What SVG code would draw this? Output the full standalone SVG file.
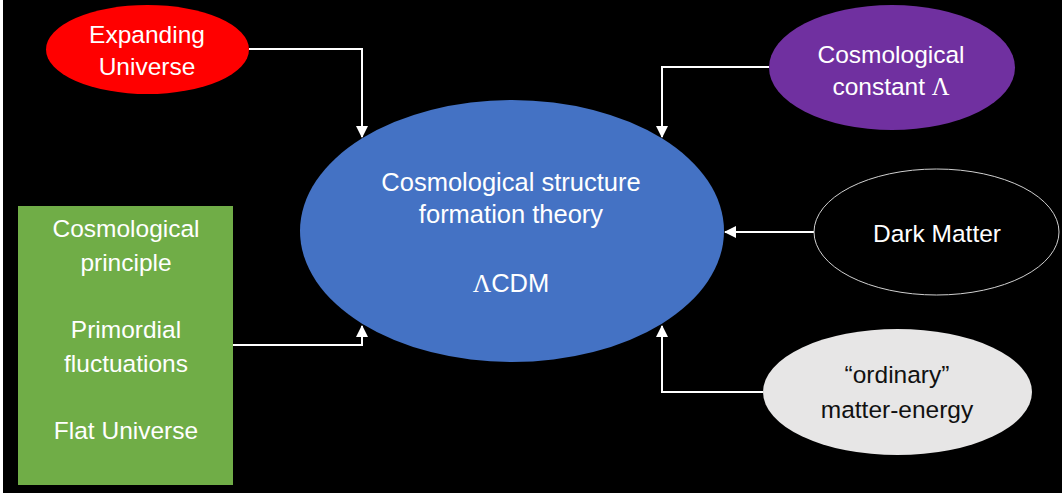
<svg xmlns="http://www.w3.org/2000/svg" width="1062" height="493" viewBox="0 0 1062 493">
<style>
text{font-family:"Liberation Sans",Arial,sans-serif;font-size:24.5px;fill:#ffffff;text-anchor:middle}
.big{font-size:25.5px}
.dark{fill:#111111}
.serif{font-family:"Liberation Serif","Times New Roman",serif}
.conn{fill:none;stroke:#ffffff;stroke-width:2}
</style>
<defs>
<marker id="arr" viewBox="0 0 12 12" refX="11" refY="6" markerWidth="12" markerHeight="12" markerUnits="userSpaceOnUse" orient="auto">
<path d="M0,0 L12,6 L0,12 Z" fill="#ffffff"/>
</marker>
</defs>
<rect x="0" y="0" width="1062" height="493" fill="#000000"/>
<rect x="0" y="0" width="3" height="493" fill="#ffffff"/>
<g id="connectors">
<path class="conn" d="M249,49 H362 V137" marker-end="url(#arr)"/>
<path class="conn" d="M769,67 H662 V137" marker-end="url(#arr)"/>
<path class="conn" d="M814,232 H725" marker-end="url(#arr)"/>
<path class="conn" d="M763,392 H662 V326" marker-end="url(#arr)"/>
<path class="conn" d="M233,345 H362 V326" marker-end="url(#arr)"/>
</g>
<g id="center">
<ellipse cx="512" cy="231" rx="212" ry="131" fill="#4472C4"/>
<text class="big" x="511" y="191">Cosmological structure</text>
<text class="big" x="511" y="223">formation theory</text>
<text class="big" x="511" y="292"><tspan class="serif">Λ</tspan>CDM</text>
</g>
<g id="expanding">
<ellipse cx="147.5" cy="49.5" rx="101.5" ry="44.5" fill="#FF0000"/>
<text x="147" y="43">Expanding</text>
<text x="147" y="75">Universe</text>
</g>
<g id="lambda">
<ellipse cx="892" cy="67.5" rx="123" ry="62.5" fill="#7030A0"/>
<text x="891" y="63">Cosmological</text>
<text x="891" y="95">constant <tspan class="serif">Λ</tspan></text>
</g>
<g id="darkmatter">
<ellipse cx="936.5" cy="232" rx="122.5" ry="63" fill="#000000" stroke="#d0d0d0" stroke-width="1"/>
<text x="937" y="242">Dark Matter</text>
</g>
<g id="ordinary">
<ellipse cx="897.5" cy="392" rx="134.5" ry="63" fill="#E7E6E6"/>
<text class="dark" x="897" y="383">“ordinary”</text>
<text class="dark" x="897" y="418">matter-energy</text>
</g>
<g id="assumptions">
<rect x="18" y="206" width="215" height="279" fill="#70AD47"/>
<text x="126" y="237">Cosmological</text>
<text x="126" y="271">principle</text>
<text x="126" y="338">Primordial</text>
<text x="126" y="372">fluctuations</text>
<text x="126" y="439">Flat Universe</text>
</g>
</svg>
